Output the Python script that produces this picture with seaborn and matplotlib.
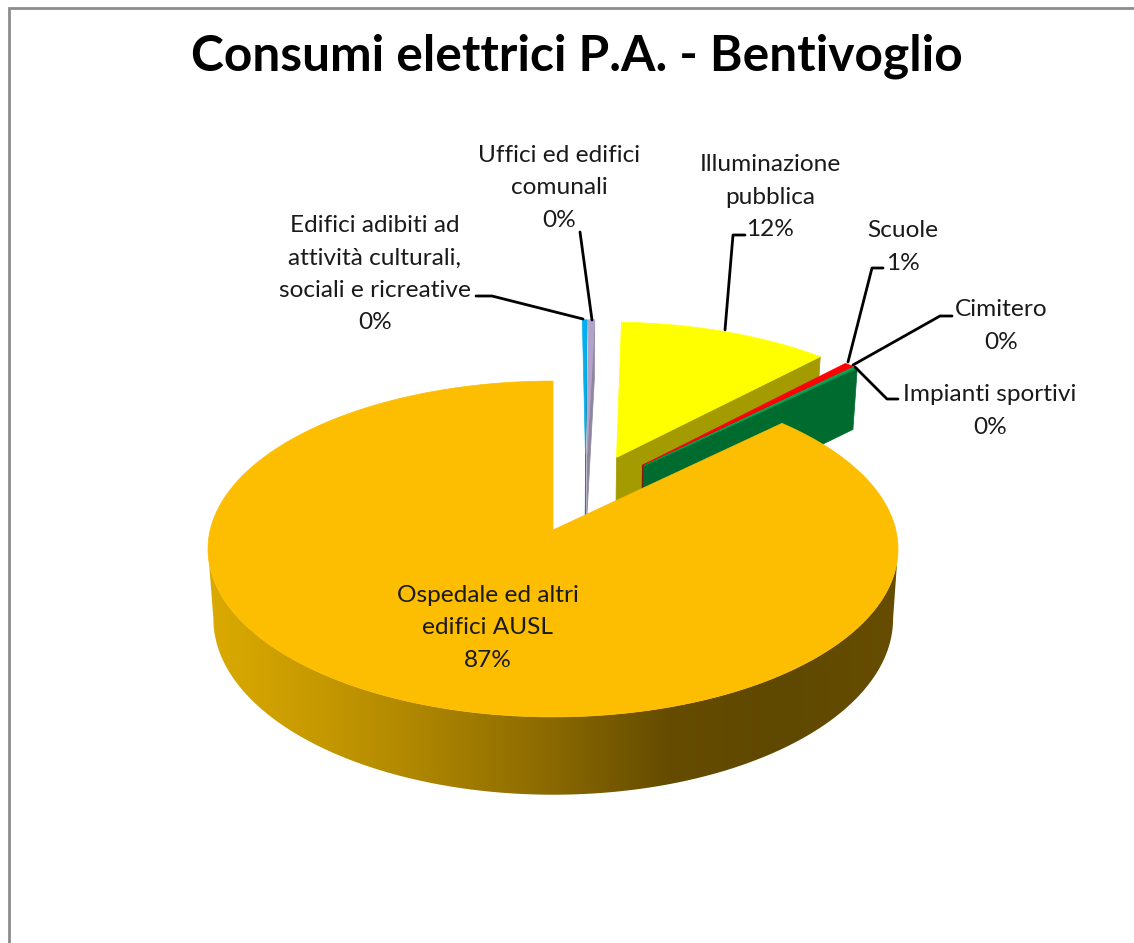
import numpy as np
import seaborn as sns
import matplotlib
matplotlib.use('Agg')
import matplotlib.pyplot as plt
from matplotlib.colors import LinearSegmentedColormap
from matplotlib.patches import Polygon

# valori (clockwise from 12 o'clock)
categories = ["Edifici adibiti ad\nattività culturali,\nsociali e ricreative",
              "Uffici ed edifici\ncomunali",
              "Illuminazione\npubblica",
              "Scuole",
              "Cimitero",
              "Impianti sportivi",
              "Ospedale ed altri\nedifici AUSL"]
shares = [0.25, 0.35, 11.5, 0.5, 0.1, 0.1, 87.2]
pct_labels = ["0%", "0%", "12%", "1%", "0%", "0%", "87%"]
top_colors = ["#00B0F0", "#B2A2C7", "#FFFF00", "#FF0000", "#2E9E5B", "#00A050", "#FDBD00"]
wall_colors = ["#1C7F9E", "#8F86A0", "#A39B00", "#8E0000", "#006B2F", "#006B2F", "#A88000"]
title = "Consumi elettrici P.A. - Bentivoglio"

sns.set_theme(style="white")
plt.rcParams['font.family'] = ['Lato', 'DejaVu Sans']

fig, ax = plt.subplots(figsize=(11.34, 9.43), dpi=100)
fig.subplots_adjust(0, 0, 1, 1)
ax.set_xlim(0, 1134)
ax.set_ylim(943, 0)
ax.axis('off')

# camera: pie plane -> picture, with perspective
cx, cy, X, S, k, depth = 553, 530, 342.8, 165.8, 0.113, 69
explode = 0.25


def project(u, v, drop=False):
    w = 1 + k * v
    px = X * u / w
    py = cy - S * v / w
    if drop:
        return cx + 15 + (px - 15) * 0.985, py + depth / w
    return cx + px, py


def ring(t):
    return np.sin(t), np.cos(t)


edges = np.radians(np.concatenate([[0], np.cumsum(shares)]) * 3.6)
mids = (edges[:-1] + edges[1:]) / 2
# the big slice sits at the origin of the plane, the others move from it
du = explode * (np.sin(mids) - np.sin(mids[-1]))
dv = explode * (np.cos(mids) - np.cos(mids[-1]))

# pieces, back to front
for i in range(len(shares) - 1):
    t1 = edges[i + 1]
    su, sv = ring(t1)
    a = project(du[i], dv[i])
    b = project(du[i] + su, dv[i] + sv)
    c = project(du[i] + su, dv[i] + sv, drop=True)
    d = project(du[i], dv[i], drop=True)
    ax.add_patch(Polygon([a, b, c, d], fc=wall_colors[i], ec=wall_colors[i], lw=0.5, zorder=2 + i))
    t = np.linspace(edges[i], t1, 40)
    u, v = ring(t)
    px, py = project(du[i] + u, dv[i] + v)
    ax0, ay0 = project(du[i], dv[i])
    ax.add_patch(Polygon(np.column_stack([np.r_[ax0, px], np.r_[ay0, py]]), fc=top_colors[i],
                         ec=top_colors[i], lw=0.5, zorder=2 + i))

# big slice: shaded outer wall, only the half turned to the viewer
t_side = np.arccos(-k)
t = np.linspace(t_side, 2 * np.pi - t_side, 300)
u, v = ring(t)
tx, ty = project(u, v)
bx, by = project(u, v, drop=True)
wall = Polygon(np.column_stack([np.r_[tx, bx[::-1]], np.r_[ty, by[::-1]]]), fc='none', ec='none', zorder=20)
ax.add_patch(wall)
wall_cmap = LinearSegmentedColormap.from_list("wall", ["#DBAA00", "#C59800", "#A98200", "#8A6900", "#654C00", "#5F4800", "#664D00"])
img = ax.imshow(np.linspace(0, 1, 256)[None, :], cmap=wall_cmap, extent=(208, 897, 800, 380),
                aspect='auto', zorder=20)
img.set_clip_path(wall)
ax.set_xlim(0, 1134)
ax.set_ylim(943, 0)

t = np.linspace(edges[-2], edges[-1], 400)
u, v = ring(t)
tx, ty = project(u, v)
ax.add_patch(Polygon(np.column_stack([np.r_[cx, tx], np.r_[cy, ty]]), fc=top_colors[-1],
                     ec=top_colors[-1], lw=0.5, zorder=21))

# chart frame
ax.plot([9, 9, 1134], [943, 8, 8], color="#8C8C8C", lw=2, zorder=1, solid_joinstyle='miter')

# leader lines
leaders = [([476, 492, 583], [296, 296, 319]),
           ([580, 592], [232, 320]),
           ([745, 733, 725], [235, 235, 330]),
           ([883, 872, 848], [268, 268, 362]),
           ([952, 940, 853], [316, 316, 365]),
           ([898, 887, 855], [399, 399, 367])]
for lx, ly in leaders:
    ax.plot(lx, ly, color="black", lw=2, zorder=30)

label_pos = [(375, 274), (559, 188), (770, 197), (903, 247), (1001, 326), (990, 411), (488, 628)]
for name, pct, (lx, ly) in zip(categories, pct_labels, label_pos):
    ax.text(lx, ly, name + "\n" + pct, ha='center', va='center', fontsize=17.6, linespacing=1.65,
            color="#1A1A1A", zorder=31)

ax.text(577, 56, title, ha='center', va='center', fontsize=35.7, fontweight='bold', color="black", zorder=31)

fig.savefig("out.png", dpi=100)
